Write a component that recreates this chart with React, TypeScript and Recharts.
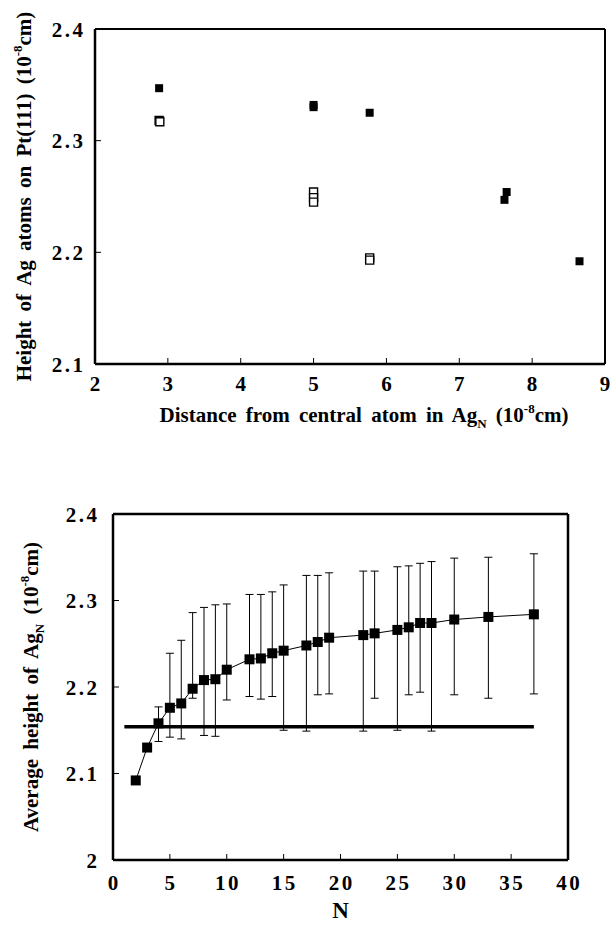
import React from "react";
import { ScatterChart, Scatter, ComposedChart, Line, ErrorBar, XAxis, YAxis } from "recharts";

const FONT = "'Liberation Serif', 'Times New Roman', serif";

// upper panel: height of every Ag atom vs. its distance from the central atom
const filledDist = [2.88, 5.0, 5.0, 5.77, 7.62, 7.65, 8.65];
const filledHeight = [2.347, 2.330, 2.332, 2.325, 2.247, 2.254, 2.192];
const openDist = [2.88, 2.89, 5.0, 5.0, 5.0, 5.77, 5.77];
const openHeight = [2.318, 2.317, 2.254, 2.249, 2.245, 2.195, 2.193];
const distTicks = [2, 3, 4, 5, 6, 7, 8, 9];
const heightTicks = [2.1, 2.2, 2.3, 2.4];

// lower panel: average height of Ag_N with min / max range
const clusterN = [2, 3, 4, 5, 6, 7, 8, 9, 10, 12, 13, 14, 15, 17, 18, 19, 22, 23, 25, 26, 27, 28, 30, 33, 37];
const avgHeight = [2.092, 2.130, 2.158, 2.176, 2.181, 2.198, 2.208, 2.209, 2.220, 2.232, 2.233, 2.239, 2.242, 2.248, 2.252, 2.257, 2.260, 2.262, 2.266, 2.269, 2.274, 2.274, 2.278, 2.281, 2.284];
const maxHeight = [2.092, 2.130, 2.177, 2.239, 2.254, 2.286, 2.292, 2.295, 2.296, 2.307, 2.307, 2.310, 2.318, 2.329, 2.329, 2.332, 2.334, 2.334, 2.339, 2.340, 2.343, 2.345, 2.349, 2.350, 2.354];
const minHeight = [2.092, 2.130, 2.137, 2.142, 2.140, 2.187, 2.144, 2.143, 2.185, 2.189, 2.186, 2.189, 2.150, 2.149, 2.191, 2.192, 2.149, 2.187, 2.150, 2.191, 2.194, 2.149, 2.191, 2.187, 2.192];
const flatN = [1, 37];
const flatHeight = [2.154, 2.154];
const nTicks = [0, 5, 10, 15, 20, 25, 30, 35, 40];
const avgTicks = [2, 2.1, 2.2, 2.3, 2.4];

const filledData = filledDist.map((x, i) => ({ x, y: filledHeight[i] }));
const openData = openDist.map((x, i) => ({ x, y: openHeight[i] }));
const avgData = clusterN.map((x, i) => ({
  x,
  y: avgHeight[i],
  err: [avgHeight[i] - minHeight[i], maxHeight[i] - avgHeight[i]],
}));
const flatData = flatN.map((x, i) => ({ x, y: flatHeight[i] }));

const labelText = { fill: "#000", fontSize: 21, fontWeight: 700, fontFamily: FONT, letterSpacing: 2.5 } as any;
const titleProps = { fill: "#000", fontSize: 21, fontWeight: 700, fontFamily: FONT, wordSpacing: 4 } as any;
const TICK = 6;

// bottom axis: label below, short tick pointing into the plot
const makeXTick = (margin: number) => (props: any) => {
  const { x, y, payload } = props;
  return (
    <g>
      <line x1={x} x2={x} y1={y - margin} y2={y - margin - TICK} stroke="#000" strokeWidth={1} />
      <text x={x + 1.2} y={y} dy="0.71em" textAnchor="middle" {...labelText}>
        {payload.value}
      </text>
    </g>
  );
};

// left axis: label at left, tick pointing into the plot
const makeYTick = (margin: number) => (props: any) => {
  const { x, y, payload } = props;
  return (
    <g>
      <line x1={x + margin} x2={x + margin + TICK} y1={y} y2={y} stroke="#000" strokeWidth={1} />
      <text x={x + 2.5} y={y} dy="0.36em" textAnchor="end" {...labelText}>
        {payload.value}
      </text>
    </g>
  );
};

const Sup = () => (
  <>
    <tspan dy={-9} fontSize={13}>-8</tspan>
    <tspan dy={9}>cm)</tspan>
  </>
);

const DistanceTitle = ({ viewBox }: any) => (
  <text x={viewBox.x + viewBox.width / 2 + 14} y={viewBox.y + 58} textAnchor="middle" {...titleProps}>
    Distance from central atom in Ag<tspan dy={6} fontSize={13}>N</tspan>
    <tspan dy={-6}> (10</tspan>
    <Sup />
  </text>
);

const AtomHeightTitle = ({ viewBox }: any) => {
  const cx = viewBox.x + 24;
  const cy = viewBox.y + viewBox.height / 2;
  return (
    <text x={cx} y={cy} dy="0.35em" textAnchor="middle" transform={`rotate(-90 ${cx} ${cy})`} {...titleProps}>
      Height of Ag atoms on Pt(111) (10
      <Sup />
    </text>
  );
};

const NTitle = ({ viewBox }: any) => (
  <text x={viewBox.x + viewBox.width / 2} y={viewBox.y + 58} textAnchor="middle" {...titleProps} fontSize={23}>
    N
  </text>
);

const AvgTitle = ({ viewBox }: any) => {
  const cx = viewBox.x + 31;
  const cy = viewBox.y + viewBox.height / 2;
  return (
    <text x={cx} y={cy} dy="0.35em" textAnchor="middle" transform={`rotate(-90 ${cx} ${cy})`} {...titleProps}>
      Average height of Ag<tspan dy={6} fontSize={13}>N</tspan>
      <tspan dy={-6}> (10</tspan>
      <Sup />
    </text>
  );
};

const SquareDot = (props: any) => {
  const { cx, cy, index } = props;
  if (cx == null || cy == null) return <g key={index} />;
  return <rect key={index} x={cx - 5} y={cy - 5} width={10} height={10} fill="#000" />;
};

const frame = { stroke: "#000", strokeWidth: 2.5 };
const thinFrame = { stroke: "#000", strokeWidth: 2 };
const tickLine = { stroke: "#000", strokeWidth: 1 };

export default function App() {
  return (
    <div style={{ position: "absolute", left: 0, top: 0, width: 615, height: 926, background: "#fff" }}>
      <div style={{ position: "absolute", left: 0, top: 0 }}>
        <ScatterChart width={615} height={450} margin={{ top: 29, right: 10, bottom: 0, left: 0 }}>
          <XAxis
            type="number"
            dataKey="x"
            domain={[2, 9]}
            ticks={distTicks}
            height={86}
            tickSize={0}
            tickMargin={12}
            tick={makeXTick(12)}
            tickLine={false}
            axisLine={frame}
            label={{ content: DistanceTitle }}
            allowDataOverflow
          />
          <XAxis xAxisId="top" orientation="top" mirror type="number" dataKey="x" domain={[2, 9]} ticks={distTicks} tickSize={TICK} tick={false} tickLine={tickLine} axisLine={thinFrame} allowDataOverflow />
          <YAxis
            type="number"
            dataKey="y"
            domain={[2.1, 2.4]}
            ticks={heightTicks}
            width={95}
            tickSize={0}
            tickMargin={12}
            tick={makeYTick(12)}
            tickLine={false}
            axisLine={frame}
            label={{ content: AtomHeightTitle }}
            allowDataOverflow
          />
          <YAxis yAxisId="right" orientation="right" mirror type="number" dataKey="y" domain={[2.1, 2.4]} ticks={heightTicks} tickSize={TICK} tick={false} tickLine={tickLine} axisLine={thinFrame} allowDataOverflow />
          <Scatter data={openData} shape="square" size={72} fill="#fff" stroke="#000" strokeWidth={1.4} isAnimationActive={false} />
          <Scatter data={filledData} xAxisId="top" yAxisId="right" shape="square" size={110} fill="#000" isAnimationActive={false} />
        </ScatterChart>
      </div>
      <div style={{ position: "absolute", left: 0, top: 490 }}>
        <ComposedChart width={615} height={436} data={avgData} margin={{ top: 24, right: 47, bottom: 0, left: 0 }}>
          <XAxis
            type="number"
            dataKey="x"
            domain={[0, 40]}
            ticks={nTicks}
            height={66}
            tickSize={0}
            tickMargin={15}
            tick={makeXTick(15)}
            tickLine={false}
            axisLine={frame}
            label={{ content: NTitle }}
            allowDataOverflow
          />
          <XAxis xAxisId="top" orientation="top" mirror type="number" dataKey="x" domain={[0, 40]} ticks={nTicks} tickSize={TICK} tick={false} tickLine={tickLine} axisLine={frame} allowDataOverflow />
          <YAxis
            type="number"
            domain={[2, 2.4]}
            ticks={avgTicks}
            width={113}
            tickSize={0}
            tickMargin={16}
            tick={makeYTick(16)}
            tickLine={false}
            axisLine={frame}
            label={{ content: AvgTitle }}
            allowDataOverflow
          />
          <YAxis yAxisId="right" orientation="right" mirror type="number" domain={[2, 2.4]} ticks={avgTicks} tickSize={TICK} tick={false} tickLine={tickLine} axisLine={frame} allowDataOverflow />
          <Line data={flatData} xAxisId="top" yAxisId="right" dataKey="y" stroke="#000" strokeWidth={3.5} dot={false} isAnimationActive={false} />
          <Line dataKey="y" stroke="#000" strokeWidth={1} dot={SquareDot} activeDot={false} isAnimationActive={false}>
            <ErrorBar dataKey="err" width={4} stroke="#000" strokeWidth={1} direction="y" />
          </Line>
        </ComposedChart>
      </div>
    </div>
  );
}
